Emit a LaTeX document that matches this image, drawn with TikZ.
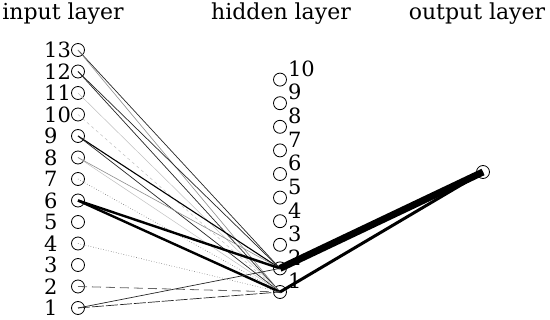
\documentclass[tikz,border=0pt]{standalone}
\usepackage{fontspec}
\setmainfont{DejaVu Serif}
\usetikzlibrary{positioning}
\tikzset{
  neuron/.style={
    circle,
    draw,
    line width=0.8pt,
    minimum size=13pt,
    inner sep=0pt
  },
  numlabel/.style={
    inner sep=0pt,
    font=\fontsize{21}{21}\selectfont
  },
  layertitle/.style={
    inner sep=0pt,
    font=\fontsize{22}{22}\selectfont
  },
  wdark/.style={black!85,line width=0.7pt},
  wgray/.style={black!45,line width=0.6pt},
  wlight/.style={black!25,line width=0.5pt},
  wdot/.style={black!55,line width=0.6pt,dotted},
  wdash/.style={black!60,line width=0.8pt,dash pattern=on 9pt off 5pt},
  wthick/.style={black,line width=2.4pt}
}

\begin{document}
\begin{tikzpicture}[x=1pt,y=-1pt]
\useasboundingbox (0,0) rectangle (550,320);

% titles
\node[layertitle] (tin) at (63,14) {input layer};
\node[layertitle] (thid) at (281,14) {hidden layer};
\node[layertitle] (tout) at (477,14) {output layer};

% input layer
\foreach \i in {1,...,13}{
  \node[neuron] (in\i) at (78,{308-(\i-1)*21.5}) {};
  \node[numlabel, anchor=west] at (in\i.center -| 44,0) {\i};
}

% hidden layer
\foreach \j in {1,...,10}{
  \node[neuron] (h\j) at (280,{292-(\j-1)*23.6}) {};
  \node[numlabel, anchor=south west] at ([xshift=3pt,yshift=-2pt]h\j.north east) {\j};
}

% output layer
\node[neuron] (out) at (483,172) {};

% input - hidden
\draw[wdark] (in13.center) -- (h2.center);
\draw[wgray] (in13.center) -- (h1.center);
\draw[wdark] (in12.center) -- (h2.center);
\draw[wdark] (in12.center) -- (h1.center);
\draw[wlight] (in11.center) -- (h1.center);
\draw[wlight,dashed] (in10.center) -- (h1.center);
\draw[black,line width=1.1pt] (in9.center) -- (h2.center);
\draw[wdark] (in9.center) -- (h1.center);
\draw[wlight] (in8.center) -- (h1.center);
\draw[wgray] (in8.center) -- (h2.center);
\draw[wdot] (in7.center) -- (h1.center);
\draw[wthick] (in6.center) -- (h2.center);
\draw[wthick] (in6.center) -- (h1.center);
\draw[wdot] (in4.center) -- (h1.center);
\draw[wdash] (in2.center) -- (h1.center);
\draw[wdark] (in1.center) -- (h2.center);
\draw[wdark,dash pattern=on 12pt off 2pt] (in1.center) -- (h1.center);

% hidden - output
\draw[black,line width=7pt] (h2.center) -- (out.center);
\draw[black,line width=3pt] (h1.center) -- (out.center);
\end{tikzpicture}
\end{document}
